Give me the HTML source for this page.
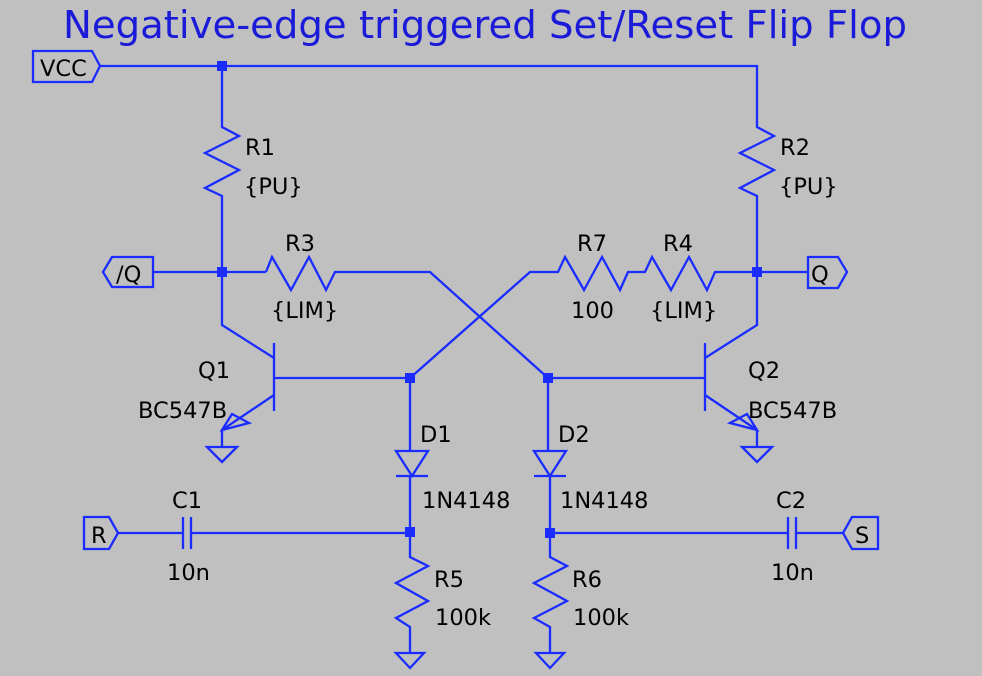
<!DOCTYPE html>
<html><head><style>
html,body{margin:0;padding:0;background:#c0c0c0}
svg{display:block}
text{font-family:"DejaVu Sans","Liberation Sans",sans-serif;font-size:22.5px;fill:#000}
</style></head><body>
<svg width="982" height="676" viewBox="0 0 982 676" xmlns="http://www.w3.org/2000/svg">
<rect width="982" height="676" fill="#c0c0c0"/>
<text x="63" y="38" textLength="844" lengthAdjust="spacingAndGlyphs" style="font-size:38px;fill:#1a1ad8">Negative-edge triggered Set/Reset Flip Flop</text>
<g fill="none" stroke="#1a2cff" stroke-width="2.3">
<path d="M33 51 H92 L100 66 L92 82 H33 Z"/>
<path d="M100 66 H757 V118"/>
<path d="M222 66 V118"/>
<path d="M222 118 V127 L239 136 L205 153 L239 170 L205 188 L222 196 V272"/>
<path d="M757 118 V127 L774 136 L740 153 L774 170 L740 188 L757 196 V272"/>
<path d="M153 257 H112 L103 272 L112 287 H153 Z"/>
<path d="M153 272 H266"/>
<path d="M266 272 L272 257 L291 290 L309 257 L326 290 L335 272 H430 L548 378"/>
<path d="M410 378 L530 272 H558 L565 257 L584 290 L602 257 L620 290 L628 272 H645 L652 257 L671 290 L689 257 L707 290 L715 272 H808"/>
<path d="M808 257 H838 L847 272 L838 288 H808 Z"/>
<path d="M222 272 V325 L274 358"/>
<path d="M274 343 V411"/>
<path d="M274 378 H410"/>
<path d="M274 395 L222 430 V447"/>
<path d="M232 414 L222 430 L249 423 Z"/>
<path d="M207 447 H237 L222 462 Z"/>
<path d="M757 272 V325 L705 358"/>
<path d="M705 343 V411"/>
<path d="M548 378 H705"/>
<path d="M705 395 L757 430 V447"/>
<path d="M747 414 L757 430 L730 423 Z"/>
<path d="M742 447 H772 L757 462 Z"/>
<path d="M410 378 V451"/>
<path d="M396 451 H428 L412 476 Z"/>
<path d="M396 476 H428"/>
<path d="M410 476 V557 L428 566 L396 583 L428 601 L396 618 L410 627 V653"/>
<path d="M396 653 H424 L410 668 Z"/>
<path d="M548 378 V451"/>
<path d="M534 451 H566 L550 476 Z"/>
<path d="M534 476 H566"/>
<path d="M550 476 V557 L567 566 L534 583 L567 601 L534 618 L550 627 V653"/>
<path d="M536 653 H564 L550 668 Z"/>
<path d="M84 517 H109 L118 533 L109 549 H84 Z"/>
<path d="M118 533 H183 M191 533 H410"/>
<path d="M183 517 V549 M191 517 V549"/>
<path d="M878 517 H852 L843 533 L852 549 H878 Z"/>
<path d="M550 533 H788 M796 533 H843"/>
<path d="M788 517 V549 M796 517 V549"/>
</g>
<g fill="#1a2cff">
<rect x="217" y="61" width="10" height="10"/>
<rect x="217" y="267" width="10" height="10"/>
<rect x="752" y="267" width="10" height="10"/>
<rect x="405" y="373" width="10" height="10"/>
<rect x="543" y="373" width="10" height="10"/>
<rect x="405" y="527" width="10" height="10"/>
<rect x="545" y="528" width="10" height="10"/>
</g>
<text x="40" y="76">VCC</text>
<text x="116" y="282">/Q</text>
<text x="811" y="282">Q</text>
<text x="91" y="543">R</text>
<text x="855" y="543">S</text>
<text x="245" y="155">R1</text>
<text x="244" y="194">{PU}</text>
<text x="780" y="155">R2</text>
<text x="779" y="194">{PU}</text>
<text x="285" y="251">R3</text>
<text x="271" y="318">{LIM}</text>
<text x="577" y="251">R7</text>
<text x="571" y="318">100</text>
<text x="663" y="251">R4</text>
<text x="650" y="318">{LIM}</text>
<text x="198" y="378">Q1</text>
<text x="138" y="418">BC547B</text>
<text x="748" y="378">Q2</text>
<text x="748" y="418">BC547B</text>
<text x="420" y="442">D1</text>
<text x="422" y="508">1N4148</text>
<text x="558" y="442">D2</text>
<text x="560" y="508">1N4148</text>
<text x="172" y="508">C1</text>
<text x="167" y="580">10n</text>
<text x="776" y="508">C2</text>
<text x="771" y="580">10n</text>
<text x="434" y="587">R5</text>
<text x="435" y="625">100k</text>
<text x="572" y="587">R6</text>
<text x="573" y="625">100k</text>
</svg>
</body></html>
